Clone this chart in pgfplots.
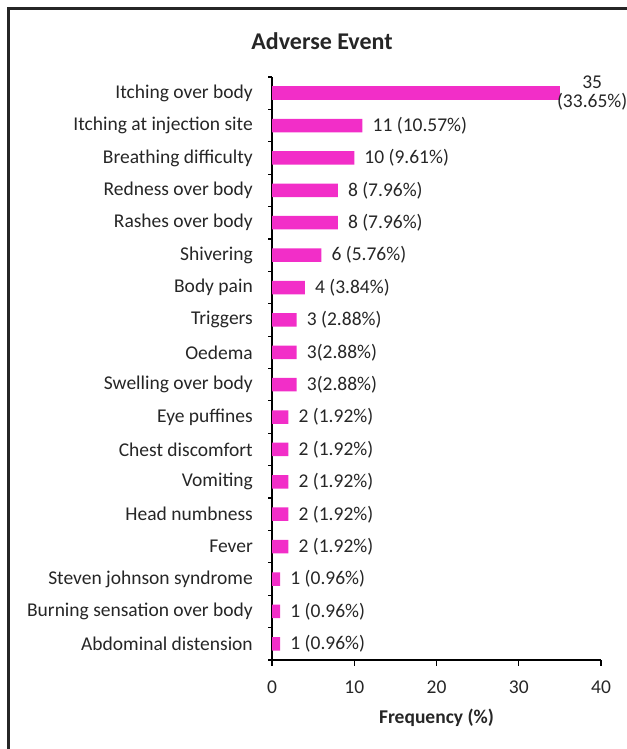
\documentclass[border=0pt]{standalone}
\usepackage{pgfplots}
\pgfplotsset{compat=1.18}
\usepackage{fontspec}
\setmainfont{Carlito}
\definecolor{barpink}{RGB}{242,46,200}
\definecolor{txt}{RGB}{38,38,38}
\newcommand{\lblfont}{\fontsize{19.5}{21}\selectfont}

\begin{document}
\begin{tikzpicture}
\useasboundingbox (0,0) rectangle (626pt,749pt);
% frame around the chart
\draw[line width=2.5pt, black!85] (8.5pt,-20pt) -- (8.5pt,740.5pt) -- (660pt,740.5pt);
% chart title
\node[font=\bfseries\fontsize{24}{28}\selectfont, text=txt] at (322pt,708pt) {Adverse Event};

\begin{axis}[
  at={(272pt,89pt)}, anchor=south west,
  scale only axis, width=329pt, height=583pt,
  xbar, bar width=13.5pt,
  xmin=0, xmax=40, ymin=0.5, ymax=18.5,
  axis lines*=left,
  axis line style={-, line width=1.2pt, black},
  xtick={0,10,20,30,40},
  ytick={1,...,18},
  yticklabels={Abdominal distension, Burning sensation over body, Steven johnson syndrome, Fever, Head numbness, Vomiting, Chest discomfort, Eye puffines, Swelling over body, Oedema, Triggers, Body pain, Shivering, Rashes over body\hspace{4.5pt}, Redness over body, Breathing difficulty, Itching at injection site, Itching over body},
  minor ytick={0.5,1.5,...,18.5},
  tick align=outside, tick pos=left,
  major tick length=6pt, minor tick length=4pt,
  tick style={black, line width=1.2pt},
  major y tick style={draw=none},
  /pgf/number format/assume math mode=true,
  tick label style={font=\lblfont, text=txt, inner sep=0pt},
  yticklabel style={xshift=-13pt},
  xticklabel style={yshift=-15pt},
  xlabel={Frequency (\%)},
  every axis x label/.style={at={(axis description cs:0.5,0)}, anchor=center, yshift=-58pt, font=\bfseries\lblfont, text=txt},
  point meta=explicit symbolic,
  nodes near coords,
  every node near coord/.style={font=\lblfont, text=txt, anchor=west, inner sep=0pt, xshift=10pt},
]
\addplot[fill=barpink, draw=none, bar shift=0pt] coordinates {
  (11,17) [{11 (10.57\%)}]
  (10,16) [{10 (9.61\%)}]
  (8,15)  [{8 (7.96\%)}]
  (8,14)  [{8 (7.96\%)}]
  (6,13)  [{6 (5.76\%)}]
  (4,12)  [{4 (3.84\%)}]
  (3,11)  [{3 (2.88\%)}]
  (3,10)  [{3(2.88\%)}]
  (3,9)   [{3(2.88\%)}]
  (2,8)   [{2 (1.92\%)}]
  (2,7)   [{2 (1.92\%)}]
  (2,6)   [{2 (1.92\%)}]
  (2,5)   [{2 (1.92\%)}]
  (2,4)   [{2 (1.92\%)}]
  (1,3)   [{1 (0.96\%)}]
  (1,2)   [{1 (0.96\%)}]
  (1,1)   [{1 (0.96\%)}]
};
% the largest bar carries a two-line label
\addplot[fill=barpink, draw=none, bar shift=0pt,
  every node near coord/.append style={align=center, xshift=-13pt, font=\fontsize{19.5}{19.5}\selectfont}]
  coordinates {
  (35,18) [{35\\[-1pt](33.65\%)}]
};
\end{axis}
\end{tikzpicture}
\end{document}
